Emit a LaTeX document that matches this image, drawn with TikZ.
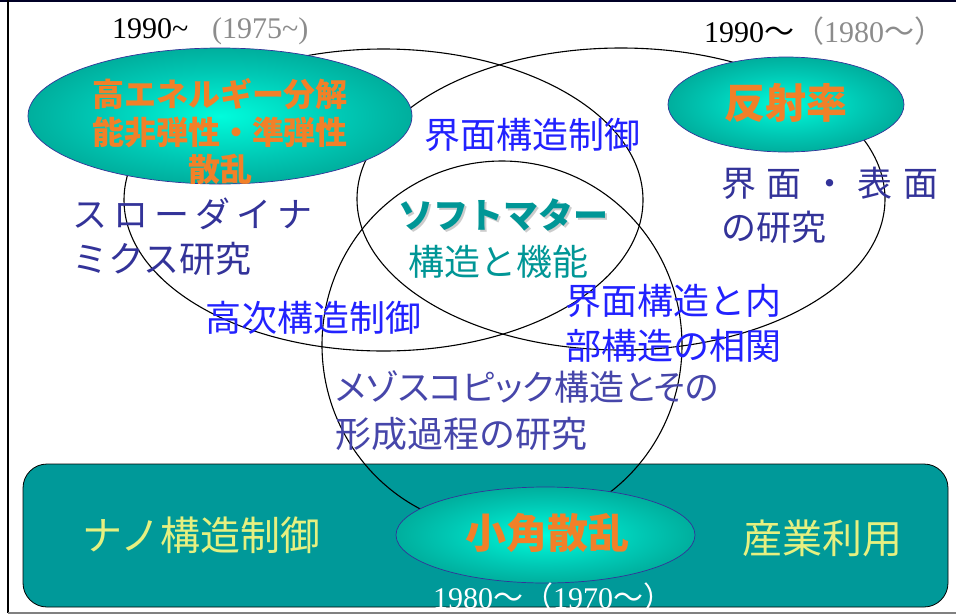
\documentclass[tikz,border=0pt]{standalone}
\usepackage{fontspec}
\setmainfont{Liberation Serif}
\newfontfamily\jp{Noto Sans CJK JP}
\newfontfamily\jpp{Noto Sans CJK JP}[RawFeature=+palt]
\usetikzlibrary{shapes.geometric}
\definecolor{glowin}{RGB}{0,252,220}
\definecolor{glowmid}{RGB}{0,200,180}
\definecolor{glowout}{RGB}{0,104,94}
\definecolor{navyline}{RGB}{51,51,153}
\definecolor{bandteal}{RGB}{0,153,153}
\definecolor{txtblue}{RGB}{34,34,255}
\definecolor{txtdark}{RGB}{51,51,153}
\definecolor{txtteal}{RGB}{0,150,150}
\definecolor{txtpurple}{RGB}{70,70,170}
\definecolor{txtorange}{RGB}{242,128,40}
\definecolor{txtyellow}{RGB}{230,240,128}
\definecolor{yeargray}{RGB}{140,140,140}
\pgfdeclareradialshading{tealglow}{\pgfpoint{0bp}{0bp}}{color(0bp)=(glowin); color(16bp)=(glowmid); color(50bp)=(glowout); color(72bp)=(glowout)}
\begin{document}
\begin{tikzpicture}[x=1pt,y=-1pt,
  ring/.style={ellipse, draw=black, line width=1.1pt, inner sep=0pt},
  glow/.style={ellipse, draw=navyline, line width=0.7pt, shading=tealglow, inner sep=0pt},
  band/.style={rectangle, rounded corners=24pt, draw=black, line width=0.8pt, fill=bandteal, inner sep=0pt},
  jt/.style={inner sep=0pt, font=\jp\fontsize{#1}{#1}\selectfont},
  jtb/.style={inner sep=0pt, font=\jp\bfseries\fontsize{#1}{#1}\selectfont},
  jtp/.style={inner sep=0pt, font=\jpp\fontsize{#1}{#1}\selectfont},
  yr/.style={inner sep=0pt, font=\fontsize{30}{30}\selectfont, anchor=base west}]
\useasboundingbox (0,0) rectangle (956,614);
\fill[white] (0,0) rectangle (956,614);
% outer frame
\draw[line width=2pt, black!85!blue] (0,1) -- (956,1);
\draw[line width=2pt, black] (8,0) -- (8,613);
\draw[line width=1.6pt, gray] (8,613) -- (956,613);
% bottom band
\node[band, minimum width=925pt, minimum height=143pt] (band) at (485.5,535.5) {};
% outline ellipses
\node[ring, minimum width=519pt, minimum height=302pt] (slow) at (383.5,200) {};
\node[ring, minimum width=528pt, minimum height=302pt] (surf) at (621,199) {};
\node[ring, minimum width=360pt, minimum height=368pt] (meso) at (502,345) {};
% glowing ellipses
\node[glow, minimum width=384pt, minimum height=136pt] (he) at (220,116) {};
\node[glow, minimum width=236pt, minimum height=95pt] (refl) at (786,104.5) {};
\node[glow, minimum width=299pt, minimum height=96pt] (saxs) at (545.5,535) {};
% year labels
\node[yr] (y1a) at (112,38) {1990\textasciitilde};
\node[yr, text=yeargray] (y1b) at (212,38) {(1975\textasciitilde)};
\node[yr] (y2) at (704,42) {1990{\jp 〜}\textcolor{yeargray}{{\jp （}1980{\jp 〜）}}};
\node[yr, text=white] (y3) at (433,608) {1980{\jp 〜（}1970{\jp 〜）}};
% orange titles
\node[jtb=32, text=txtorange, anchor=base] (he1) at (220,106) {高エネルギー分解};
\node[jtb=32, text=txtorange, anchor=base] (he2) at (220,144) {能非弾性・準弾性};
\node[jtb=32, text=txtorange, anchor=base] (he3) at (220,181) {散乱};
\node[jtb=41, text=txtorange, anchor=base] (refl1) at (786,118.6) {反射率};
\node[jtb=41, text=txtorange, anchor=base] (saxs1) at (547,548.6) {小角散乱};
% blue labels
\node[jt=36, text=txtblue, anchor=base] (ifc) at (532,148.7) {界面構造制御};
\node[jt=36, text=txtblue, anchor=base] (hier) at (313,331.7) {高次構造制御};
\node[jt=36, text=txtblue, anchor=base west] (corr1) at (565,314.7) {界面構造と内};
\node[jt=36, text=txtblue, anchor=base west] (corr2) at (565,359.7) {部構造の相関};
% dark blue labels
\node[jt=35, text=txtdark, anchor=base west] (sd1) at (72,227.3) {\makebox[240pt][s]{ス\hfill ロ\hfill ー\hfill ダ\hfill イ\hfill ナ}};
\node[jt=36, text=txtdark, anchor=base west] (sd2) at (72,272.7) {ミクス研究};
\node[jt=35, text=txtdark, anchor=base west] (is1) at (721,196.3) {\makebox[217pt][s]{界\hfill 面\hfill ・\hfill 表\hfill 面}};
\node[jt=35, text=txtdark, anchor=base west] (is2) at (721,240.3) {の研究};
% soft matter (with light drop shadow)
\node[jtb=35, text=black!20, anchor=base] (smsh) at (505.5,230.3) {ソフトマター};
\node[jtb=35, text=txtteal, anchor=base] (sm) at (503.5,228.3) {ソフトマター};
\node[jt=36, text=txtteal, anchor=base] (smf) at (498.5,275.7) {構造と機能};
% mesoscopic
\node[jtp=35, text=txtpurple, anchor=base west] (ms1) at (335,400.7) {メゾスコピック構造とその};
\node[jt=36, text=txtpurple, anchor=base west] (ms2) at (335,447.7) {形成過程の研究};
% band texts
\node[jt=40, text=txtyellow, anchor=base west] (nano) at (82,550.2) {ナノ構造制御};
\node[jt=40, text=txtyellow, anchor=base] (ind) at (822,553.2) {産業利用};
\end{tikzpicture}
\end{document}
